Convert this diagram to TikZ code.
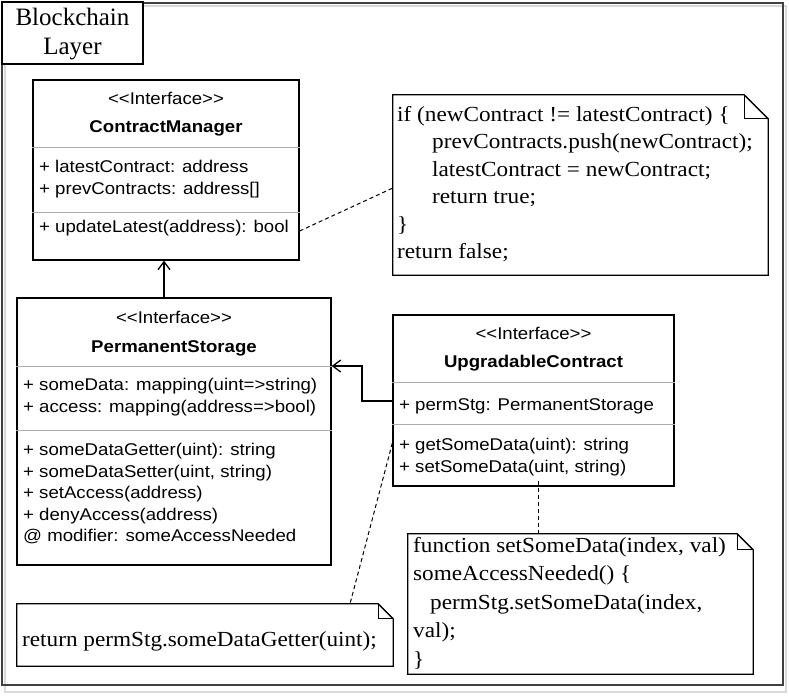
\documentclass[tikz,border=0pt]{standalone}
\usepackage{fontspec}
\newfontfamily\umlfont{Liberation Sans}[FakeStretch=1.095]
\newfontfamily\notefont{Liberation Serif}[FakeStretch=1.08]
\newfontfamily\titlefont{Liberation Serif}
\usetikzlibrary{calc}
\usetikzlibrary{arrows.meta}

\begin{document}
\begin{tikzpicture} [
    x = 1pt, y = -1pt,
    classbox/.style = {draw, line width = 1.3pt, inner sep = 0pt},
    notebox/.style = {inner sep = 0pt},
    noteline/.style = {line width = 1.3pt, line join = miter},
    sep/.style = {draw = gray!65, line width = 0.9pt},
    umltext/.style = {font = \umlfont\fontsize{17}{21.5}\selectfont, inner sep = 0pt},
    umlname/.style = {font = \umlfont\bfseries\fontsize{17}{21.5}\selectfont, inner sep = 0pt},
    umlcomp/.style = {umltext, anchor = north west, align = left, execute at begin node = \strut},
    notecomp/.style = {inner sep = 0pt, anchor = north west, align = left, execute at begin node = \strut},
    arr/.style = {line width = 1.3pt, -{Straight Barb[length = 8pt, width = 12pt]}},
    dashline/.style = {line width = 1pt, dash pattern = on 4pt off 3pt}
]
\useasboundingbox (0,0) rectangle (789,697);

% layer frame and title
\draw [gray!30, line width = 2pt] (5,6) rectangle (786,692);
\draw [gray!50!black, line width = 1.3pt] (2,3) rectangle (783,685);
\node (title) at (72.5,33) [draw, fill = white, line width = 1.2pt, inner sep = 0pt,
    minimum width = 141pt, minimum height = 62pt] {};
\node (titletext) at (72.5,7.7) [anchor = north, align = center, inner sep = 0pt,
    font = \titlefont\fontsize{25}{29}\selectfont, execute at begin node = \strut] {Blockchain\\Layer};

% ContractManager
\node (CM) at (166,170) [classbox, minimum width = 266pt, minimum height = 180pt] {};
\node (CMst) at (166,104) [umltext, anchor = base] {<<Interface>>};
\node (CMname) at (166,132) [umlname, anchor = base] {ContractManager};
\draw [sep] (CM.west |- 0,147) -- (CM.east |- 0,147);
\draw [sep] (CM.west |- 0,212) -- (CM.east |- 0,212);
\node (CMattr) at (39,160) [umlcomp] {+ latestContract: address\\+ prevContracts: address[]};
\node (CMop) at (39,217) [umlcomp] {+ updateLatest(address): bool};

% PermanentStorage
\node (PS) at (174,431.5) [classbox, minimum width = 314pt, minimum height = 267pt] {};
\node (PSst) at (174,323) [umltext, anchor = base] {<<Interface>>};
\node (PSname) at (174,352) [umlname, anchor = base] {PermanentStorage};
\draw [sep] (PS.west |- 0,366) -- (PS.east |- 0,366);
\draw [sep] (PS.west |- 0,430) -- (PS.east |- 0,430);
\node (PSattr) at (23,378) [umlcomp] {+ someData: mapping(uint=>string)\\+ access: mapping(address=>bool)};
\node (PSop) at (23,443) [umlcomp] {+ someDataGetter(uint): string\\+ someDataSetter(uint, string)\\+ setAccess(address)\\+ denyAccess(address)\\@ modifier: someAccessNeeded};

% UpgradableContract
\node (UC) at (533.5,400.5) [classbox, minimum width = 281pt, minimum height = 171pt] {};
\node (UCst) at (533.5,339) [umltext, anchor = base] {<<Interface>>};
\node (UCname) at (533.5,367) [umlname, anchor = base] {UpgradableContract};
\draw [sep] (UC.west |- 0,382) -- (UC.east |- 0,382);
\draw [sep] (UC.west |- 0,424) -- (UC.east |- 0,424);
\node (UCattr) at (399,395) [umlcomp] {+ permStg: PermanentStorage};
\node (UCop) at (399,438) [umlcomp] {+ getSomeData(uint): string\\+ setSomeData(uint, string)};

% notes
\node (N1) at (580.5,185) [notebox, minimum width = 375pt, minimum height = 180pt] {};
\draw [noteline] (N1.north west) -- ($(N1.north east) + (-24,0)$) -- ($(N1.north east) + (0,24)$)
    -- (N1.south east) -- (N1.south west) -- cycle;
\draw [noteline] ($(N1.north east) + (-24,0)$) |- ($(N1.north east) + (0,24)$);
\node (N1text) at (397,105.75) [notecomp, font = \notefont\fontsize{21.5}{27.5}\selectfont]
    {if (newContract != latestContract) \{\\\hspace*{35pt}prevContracts.push(newContract);\\\hspace*{35pt}latestContract = newContract;\\\hspace*{35pt}return true;\\\}\\return false;};

\node (N2) at (580.5,604) [notebox, minimum width = 345pt, minimum height = 140pt] {};
\draw [noteline] (N2.north west) -- ($(N2.north east) + (-16,0)$) -- ($(N2.north east) + (0,16)$)
    -- (N2.south east) -- (N2.south west) -- cycle;
\draw [noteline] ($(N2.north east) + (-16,0)$) |- ($(N2.north east) + (0,16)$);
\node (N2text) at (413,537) [notecomp, font = \notefont\fontsize{21.5}{28.5}\selectfont]
    {function setSomeData(index, val)\\someAccessNeeded() \{\\\hspace*{17pt}permStg.setSomeData(index,\\val);\\\}};

\node (N3) at (205,635) [notebox, minimum width = 376pt, minimum height = 62pt] {};
\draw [noteline] (N3.north west) -- ($(N3.north east) + (-15,0)$) -- ($(N3.north east) + (0,15)$)
    -- (N3.south east) -- (N3.south west) -- cycle;
\draw [noteline] ($(N3.north east) + (-15,0)$) |- ($(N3.north east) + (0,15)$);
\node (N3text) at (22,646) [inner sep = 0pt, anchor = base west, font = \notefont\fontsize{21.5}{27.5}\selectfont]
    {return permStg.someDataGetter(uint);};

% connectors
\draw [arr] (PS.north -| 164,0) -- (CM.south -| 164,0);
\draw [arr] (UC.west |- 0,401) -| (362,366) -- (PS.east |- 0,366);
\draw [dashline] (CM.east |- 0,231) -- (N1.west |- 0,188);
\draw [dashline] (UC.west |- 0,443) -- (N3.north -| 350,0);
\draw [dashline] ($(UC.south -| 538,0) + (0,-6)$) -- (N2.north -| 538,0);

\end{tikzpicture}
\end{document}
